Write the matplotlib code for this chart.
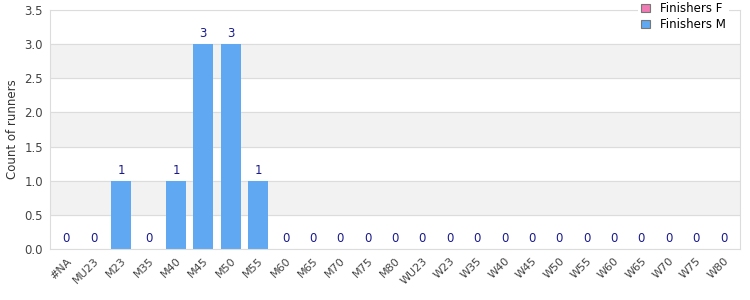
import matplotlib
matplotlib.use("Agg")
import matplotlib.pyplot as plt
import numpy as np

categories = ["#NA", "MU23", "M23", "M35", "M40", "M45", "M50", "M55", "M60", "M65",
              "M70", "M75", "M80", "WU23", "W23", "W35", "W40", "W45", "W50", "W55",
              "W60", "W65", "W70", "W75", "W80"]
finishers_f = [0] * 25
finishers_m = [0, 0, 1, 0, 1, 3, 3, 1, 0, 0, 0, 0, 0, 0, 0, 0, 0, 0, 0, 0, 0, 0, 0, 0, 0]
y_ticks = [0.0, 0.5, 1.0, 1.5, 2.0, 2.5, 3.0, 3.5]

fig = plt.figure(figsize=(7.5, 3), dpi=100)
ax = fig.add_axes([50 / 750, 1 - 249 / 300, 690 / 750, 239 / 300])

x = np.arange(len(categories))
# alternating background bands
for i in range(len(y_ticks) - 1):
    if i % 2 == 1:
        ax.axhspan(y_ticks[i], y_ticks[i + 1], color="#f2f2f2", zorder=0)
for t in y_ticks:
    ax.axhline(t, color="#dcdcdc", lw=0.8, zorder=1)

bars_f = ax.bar(x, finishers_f, width=0.72, color="#f07ab4", label="Finishers F", zorder=2)
bars_m = ax.bar(x, finishers_m, width=0.72, bottom=finishers_f, color="#60a8f2",
                label="Finishers M", zorder=2)

for xi, f, m in zip(x, finishers_f, finishers_m):
    ax.text(xi, f + m + 0.06, str(f + m), ha="center", va="bottom",
            fontsize=8.5, color="#1a1a8c", zorder=3)

ax.set_xlim(-0.6, len(categories) - 0.4)
ax.set_ylim(0, 3.5)
ax.set_yticks(y_ticks)
ax.set_yticklabels([f"{t:.1f}" for t in y_ticks], fontsize=8.5, color="#444444")
ax.set_xticks(x)
ax.set_xticklabels(categories, rotation=45, ha="right", rotation_mode="anchor",
                   fontsize=8, color="#444444")
ax.tick_params(length=0, pad=5)
ax.set_ylabel("Count of runners", fontsize=8.5, color="#333333")

for side in ["top", "right", "left", "bottom"]:
    ax.spines[side].set_color("#dcdcdc")

leg = ax.legend(loc="upper right", bbox_to_anchor=(0.993, 1.07), fontsize=8.5,
                frameon=True, fancybox=False, handlelength=0.75, handleheight=0.75,
                handletextpad=0.9, borderpad=0.25, labelspacing=0.25, framealpha=1)
leg.get_frame().set_edgecolor("white")
leg.get_frame().set_linewidth(0)
leg.set_zorder(5)
for h in leg.legend_handles:
    h.set_edgecolor("#777777")
    h.set_linewidth(0.8)

fig.savefig("out.png", dpi=100)
